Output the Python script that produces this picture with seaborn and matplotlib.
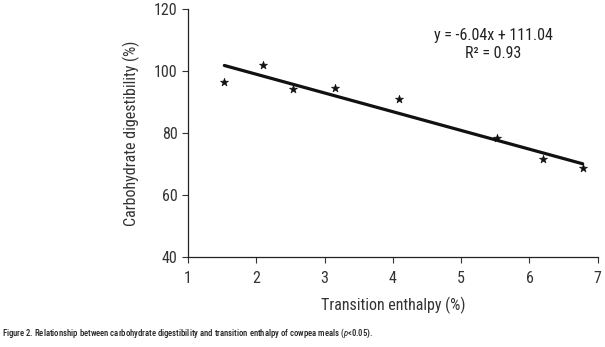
import numpy as np
import pandas as pd
import seaborn as sns
import matplotlib.pyplot as plt

# values
enthalpy = [1.53, 2.10, 2.54, 3.15, 4.09, 5.53, 6.20, 6.78]
digestibility = [96.5, 101.9, 94.1, 94.6, 90.9, 78.5, 71.7, 68.8]
slope = -6.04
intercept = 111.04
r2 = 0.93
x_ticks = [1, 2, 3, 4, 5, 6, 7]
y_ticks = [40, 60, 80, 100, 120]

sns.set_style("ticks")
plt.rcParams["font.family"] = ["Roboto Condensed", "DejaVu Sans"]
plt.rcParams["mathtext.fontset"] = "custom"
plt.rcParams["mathtext.it"] = "Roboto Condensed:italic"
plt.rcParams["mathtext.rm"] = "Roboto Condensed"

data = pd.DataFrame({"enthalpy": enthalpy, "digestibility": digestibility})
fit_x = np.array([min(enthalpy), max(enthalpy)])
fit = pd.DataFrame({"x": fit_x, "y": slope * fit_x + intercept})

fig = plt.figure(figsize=(6.05, 3.47), dpi=100)
ax = fig.add_axes([0.311, 0.259, 0.677, 0.715])

sns.lineplot(data=fit, x="x", y="y", color="#111111", linewidth=2.3, ax=ax)
sns.scatterplot(data=data, x="enthalpy", y="digestibility", marker="*",
                s=36, color="#111111", edgecolor="#111111", linewidth=0.5,
                zorder=3, ax=ax)

ax.set_xlim(1, 7)
ax.set_ylim(40, 120)
ax.set_xticks(x_ticks)
ax.set_yticks(y_ticks)
ax.tick_params(labelsize=11.5, colors="#333333", length=4, width=0.8)
ax.tick_params(axis="x", pad=6)
for s in ["top", "right"]:
    ax.spines[s].set_visible(False)
for s in ["left", "bottom"]:
    ax.spines[s].set_color("#222222")
    ax.spines[s].set_linewidth(0.9)

ax.set_xlabel("Transition enthalpy (%)", fontsize=11.5, color="#333333", labelpad=8)
ax.set_ylabel("Carbohydrate digestibility (%)", fontsize=11.5, color="#333333", labelpad=10)

ax.text(5.47, 114, f"y = {slope:.2f}x + {intercept:.2f}\nR² = {r2:.2f}",
        ha="center", va="top", fontsize=11.5, color="#222222", linespacing=1.3)

fig.text(0.004, 0.04,
         "Figure 2. Relationship between carbohydrate digestibility and transition enthalpy "
         "of cowpea meals ($p$<0.05).",
         fontsize=6.2, fontweight="medium", color="#222222", ha="left", va="center")

fig.savefig("out.png", dpi=100)
